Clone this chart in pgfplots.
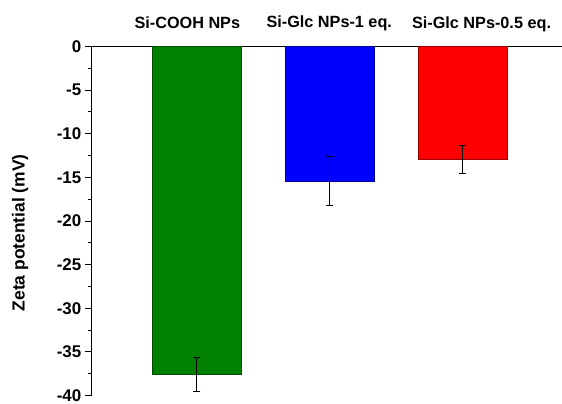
\documentclass[border=0pt]{standalone}
\usepackage{fontspec}
\setmainfont{Liberation Sans}
\usepackage{pgfplots}
\pgfplotsset{compat=1.18}
\definecolor{cgreen}{RGB}{0,128,0}
\definecolor{cblue}{RGB}{0,0,255}
\definecolor{cred}{RGB}{255,0,0}
\begin{document}
\begin{tikzpicture}
\useasboundingbox (0,0) rectangle (562bp,404bp);
\begin{axis}[
  at={(91.3bp,8.5bp)}, anchor=south west,
  scale only axis, width=470.7bp, height=349bp,
  xmin=0.207, xmax=3.746, ymin=-40, ymax=0,
  axis x line*=top, axis y line*=left,
  x axis line style={-, line width=1.3pt},
  y axis line style={-, line width=1.3pt},
  xtick=\empty,
  ytick={-40,-35,...,0},
  minor y tick num=1,
  tick align=outside,
  major tick length=6bp, minor tick length=3.5bp,
  every tick/.style={black, line width=1pt},
  /pgf/number format/assume math mode=true,
  tick label style={font=\bfseries\fontsize{17}{17}\selectfont},
  yticklabel style={xshift=-0.5bp},
  ylabel={Zeta potential (mV)},
  every axis y label/.style={at={(axis description cs:-0.151,0.466)}, rotate=90, anchor=center, font=\bfseries\fontsize{17.5}{17.5}\selectfont},
  clip=false,
  ybar, bar width=0.67, bar shift=0pt,
]
\addplot[fill=cgreen, draw=cgreen!60!black, line width=0.5pt,
  error bars/.cd, y dir=both, y explicit,
  error bar style={black, line width=0.8pt},
  error mark options={rotate=90, mark size=3.5bp, black, line width=0.8pt}]
  coordinates {(1,-37.6) +- (0,1.95)};
\addplot[fill=cblue, draw=cblue!60!black, line width=0.5pt,
  error bars/.cd, y dir=both, y explicit,
  error bar style={black, line width=0.8pt},
  error mark options={rotate=90, mark size=3.5bp, black, line width=0.8pt}]
  coordinates {(2,-15.4) +- (0,2.8)};
\addplot[fill=cred, draw=cred!60!black, line width=0.5pt,
  error bars/.cd, y dir=both, y explicit,
  error bar style={black, line width=0.8pt},
  error mark options={rotate=90, mark size=3.5bp, black, line width=0.8pt}]
  coordinates {(3,-12.9) +- (0,1.6)};
\node[font=\bfseries\fontsize{16.3}{16.3}\selectfont] at (axis cs:0.929,0) [yshift=24bp] {Si-COOH NPs};
\node[font=\bfseries\fontsize{16.3}{16.3}\selectfont] at (axis cs:1.996,0) [yshift=23.5bp] {Si-Glc NPs-1 eq.};
\node[font=\bfseries\fontsize{16.3}{16.3}\selectfont] at (axis cs:3.141,0) [yshift=21.7bp] {Si-Glc NPs-0.5 eq.};
\end{axis}
\end{tikzpicture}
\end{document}
